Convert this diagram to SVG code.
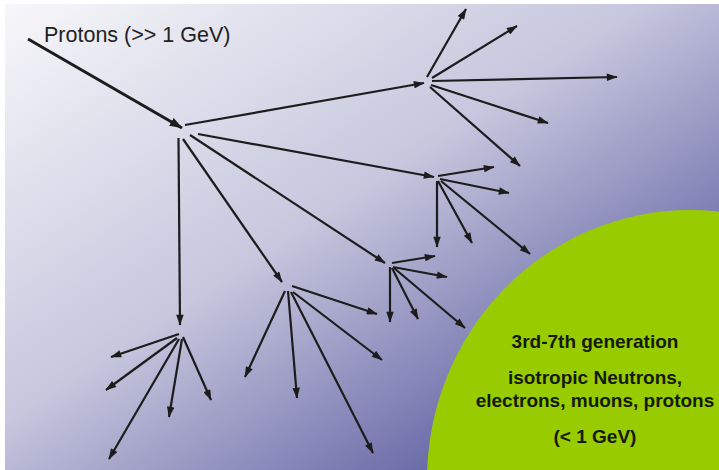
<svg xmlns="http://www.w3.org/2000/svg" width="719" height="470" viewBox="0 0 719 470">
  <defs>
    <linearGradient id="sky" x1="0" y1="0" x2="1" y2="1">
      <stop offset="0" stop-color="#f7f7fa"/>
      <stop offset="0.45" stop-color="#c6c6de"/>
      <stop offset="0.8" stop-color="#6a6aa8"/>
      <stop offset="1" stop-color="#4a4a96"/>
    </linearGradient>
    <marker id="head" viewBox="0 0 10 7" refX="9.5" refY="3.5" markerWidth="12" markerHeight="7.5" markerUnits="userSpaceOnUse" orient="auto">
      <path d="M0,0 L10,3.5 L0,7 Z" fill="#1c1c1c"/>
    </marker>
    <marker id="head-big" viewBox="0 0 10 7" refX="9.5" refY="3.5" markerWidth="13" markerHeight="9" markerUnits="userSpaceOnUse" orient="auto">
      <path d="M0,0 L10,3.5 L0,7 Z" fill="#1c1c1c"/>
    </marker>
  </defs>
  <style>
    .ray { stroke: #1c1c1c; stroke-width: 2.2; fill: none; marker-end: url(#head); }
    .primary { stroke: #1c1c1c; stroke-width: 3; fill: none; marker-end: url(#head-big); }
    .label { font-family: "Liberation Sans", Arial, sans-serif; font-size: 21.5px; fill: #222; }
    .zone-text { font-family: "Liberation Sans", Arial, sans-serif; font-size: 19px; font-weight: bold; fill: #141a08; text-anchor: middle; }
  </style>

  <!-- backdrop -->
  <rect x="0" y="0" width="719" height="470" fill="#ffffff"/>
  <rect x="5" y="4" width="714" height="466" fill="url(#sky)"/>

  <!-- low-energy zone -->
  <g id="low-energy-zone">
    <ellipse cx="690" cy="480" rx="263" ry="270" fill="#99cc00"/>
    <text class="zone-text" x="595" y="348">3rd-7th generation</text>
    <text class="zone-text" x="595" y="384">isotropic Neutrons,</text>
    <text class="zone-text" x="595" y="407">electrons, muons, protons</text>
    <text class="zone-text" x="595" y="443">(&lt; 1 GeV)</text>
  </g>

  <!-- primary label -->
  <g id="primary-label">
    <text class="label" x="44" y="42">Protons (&gt;&gt; 1 GeV)</text>
  </g>

  <!-- cascade rays -->
  <g id="connectors">
    <g id="primary">
      <line class="primary" x1="28" y1="39" x2="182" y2="128"/>
    </g>
    <g id="vertex-1">
      <line class="ray" x1="185" y1="125" x2="424" y2="83"/>
      <line class="ray" x1="198" y1="134" x2="434" y2="177"/>
      <line class="ray" x1="190" y1="135" x2="385" y2="263"/>
      <line class="ray" x1="183" y1="139" x2="282" y2="282"/>
      <line class="ray" x1="178.5" y1="138" x2="180" y2="325"/>
    </g>
    <g id="vertex-2">
      <line class="ray" x1="427" y1="77" x2="466" y2="9"/>
      <line class="ray" x1="432" y1="78" x2="517" y2="26"/>
      <line class="ray" x1="432" y1="81" x2="617" y2="77"/>
      <line class="ray" x1="431" y1="85" x2="548" y2="123"/>
      <line class="ray" x1="430" y1="87" x2="520" y2="166"/>
    </g>
    <g id="vertex-3">
      <line class="ray" x1="438" y1="176" x2="494" y2="167"/>
      <line class="ray" x1="440" y1="179" x2="509" y2="193"/>
      <line class="ray" x1="437" y1="181" x2="437" y2="247"/>
      <line class="ray" x1="438" y1="181" x2="472" y2="243"/>
      <line class="ray" x1="441" y1="181" x2="530" y2="254"/>
    </g>
    <g id="vertex-4">
      <line class="ray" x1="392" y1="263" x2="435" y2="256"/>
      <line class="ray" x1="393" y1="267" x2="447" y2="277"/>
      <line class="ray" x1="390" y1="267" x2="390" y2="322"/>
      <line class="ray" x1="392" y1="268" x2="418" y2="319"/>
      <line class="ray" x1="394" y1="268" x2="465" y2="328"/>
    </g>
    <g id="vertex-5">
      <line class="ray" x1="292" y1="286" x2="377" y2="314"/>
      <line class="ray" x1="293" y1="292" x2="382" y2="360"/>
      <line class="ray" x1="285" y1="291" x2="245" y2="377"/>
      <line class="ray" x1="288" y1="291" x2="297" y2="398"/>
      <line class="ray" x1="291" y1="292" x2="373" y2="453"/>
    </g>
    <g id="vertex-6">
      <line class="ray" x1="179" y1="334" x2="111" y2="357"/>
      <line class="ray" x1="177" y1="338" x2="106" y2="390"/>
      <line class="ray" x1="179" y1="339" x2="109" y2="459"/>
      <line class="ray" x1="182" y1="339" x2="169" y2="417"/>
      <line class="ray" x1="183" y1="337" x2="211" y2="400"/>
    </g>
  </g>
</svg>
